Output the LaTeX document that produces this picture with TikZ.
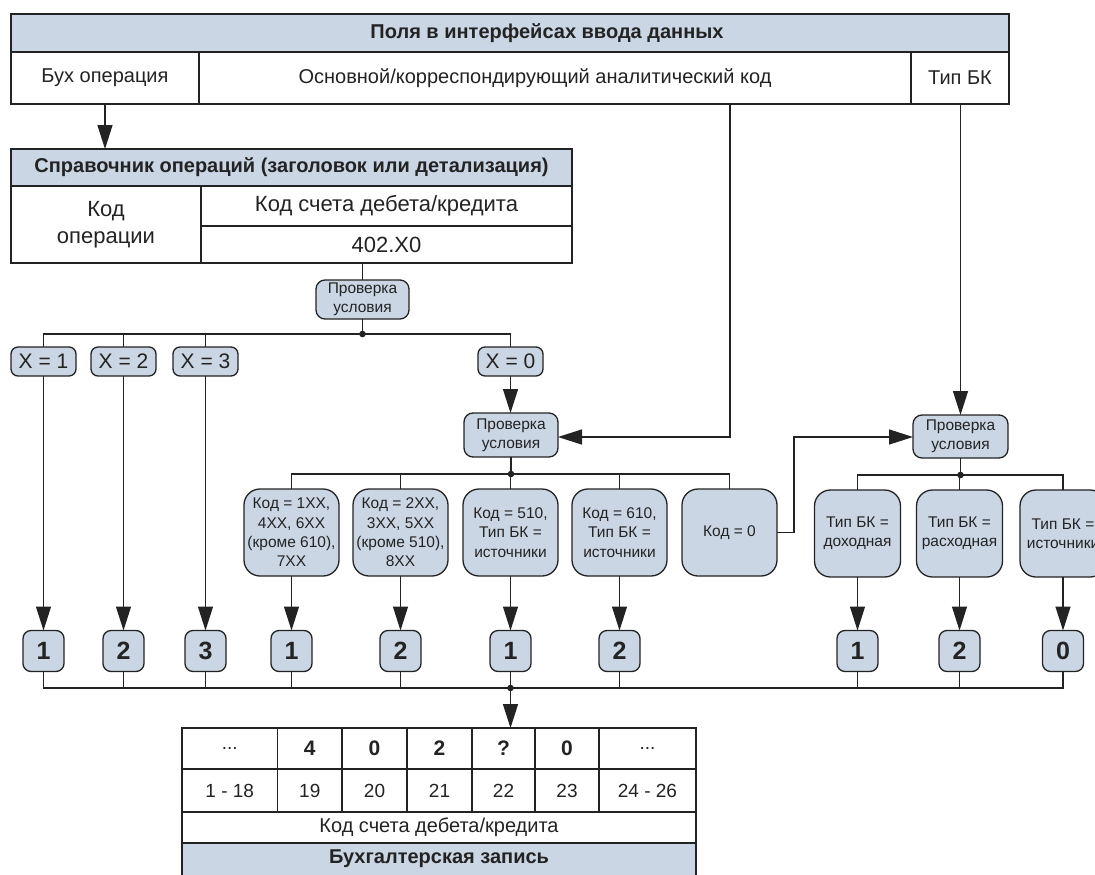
\documentclass[tikz,border=0pt]{standalone}
\usepackage{fontspec}
\setmainfont{Liberation Sans}
\usetikzlibrary{arrows.meta}
\definecolor{boxblue}{RGB}{203,214,229}
\definecolor{linec}{RGB}{35,35,35}
\definecolor{txtc}{RGB}{35,35,35}
\newcommand\myfs[2]{\fontsize{#1}{#2}\selectfont}
\begin{document}
\begin{tikzpicture}[x=1pt,y=-1pt,
  every node/.style={text=txtc},
  cell/.style={draw=linec, line width=1.4pt, inner sep=0pt, outer sep=0pt, anchor=north west, align=center, font=\myfs{20}{24}},
  hcell/.style={cell, fill=boxblue, font=\bfseries\myfs{20}{24}},
  rbox/.style={draw=linec, line width=1.3pt, fill=boxblue, inner sep=0pt, outer sep=0pt, align=center, rounded corners=#1},
  chk/.style={rbox=9pt, minimum width=94pt, minimum height=42pt, font=\myfs{15.5}{19}},
  xbox/.style={rbox=7pt, minimum width=65pt, minimum height=29pt, font=\myfs{21}{24}},
  cbox/.style={rbox=16pt, minimum width=95pt, minimum height=87pt, font=\myfs{15.5}{19.3}},
  tbox/.style={rbox=16pt, minimum width=86pt, minimum height=87pt, font=\myfs{15.5}{19.3}},
  nbox/.style={rbox=8pt, minimum width=41pt, minimum height=41pt, font=\bfseries\myfs{25}{28}},
  ln/.style={draw=linec, line width=1.3pt},
  arr/.style={ln, -{Triangle[length=24pt,width=15pt]}},
  jdot/.style={fill=linec}
]
\clip (0,0) rectangle (1095,875);
\fill[white] (0,0) rectangle (1095,875);

% ---- top table
\node[hcell, minimum width=998pt, minimum height=38pt] (hdrA) at (11,14) {};
\node[font=\bfseries\myfs{20}{24}, inner sep=0pt] (hdrAt) at (547,33) {Поля в интерфейсах ввода данных};
\node[cell, minimum width=188pt, minimum height=52pt] (buh) at (11,52) {Бух операция};
\node[cell, minimum width=712pt, minimum height=52pt] (osn) at (199,52) {\hspace*{-40pt}Основной/корреспондирующий аналитический код};
\node[cell, minimum width=98pt, minimum height=52pt] (tip) at (911,52) {Тип БК};

% ---- reference table
\node[hcell, minimum width=561pt, minimum height=37pt] (hdrB) at (11,149) {Справочник операций (заголовок или детализация)};
\node[cell, minimum width=190pt, minimum height=77pt, font=\myfs{22}{27}] (kodop) at (11,186) {Код\\операции};
\node[cell, minimum width=371pt, minimum height=40pt, font=\myfs{22}{26}] (kods) at (201,186) {Код счета дебета/кредита};
\node[cell, minimum width=371pt, minimum height=37pt, font=\myfs{22}{26}] (v402) at (201,226) {402.X0};

\draw[arr] (buh.south) -- (buh.south |- hdrB.north);

% ---- first check
\node[chk, minimum width=93pt, minimum height=39pt] (check1) at (362.5,299.5) {Проверка\\условия};
\draw[ln] (check1.north |- v402.south) -- (check1.north);
\coordinate (j1) at (362.5,334);
\node[xbox] (x1) at (43.5,361.5) {X = 1};
\node[xbox] (x2) at (123.5,361.5) {X = 2};
\node[xbox] (x3) at (205.5,361.5) {X = 3};
\node[xbox] (x0) at (510.5,361.5) {X = 0};
\draw[ln] (check1.south) -- (j1);
\draw[ln] (x1.north) -- (x1.north |- j1) -- (x0.north |- j1) -- (x0.north);
\draw[ln] (x2.north) -- (x2.north |- j1);
\draw[ln] (x3.north) -- (x3.north |- j1);
\fill[jdot] (j1) circle (3.3pt);

% ---- second check
\node[chk, minimum height=44pt] (check2) at (511,435) {Проверка\\условия};
\draw[arr] (x0.south) -- (x0.south |- check2.north);
\coordinate (k1) at (730,437);
\draw[arr] (osn.south -| k1) -- (k1) -- (check2.east |- k1);

\node[cbox] (cA) at (291.5,532.5) {Код = 1XX,\\4XX, 6XX\\(кроме 610),\\7XX};
\node[cbox] (cB) at (400.5,532.5) {Код = 2XX,\\3XX, 5XX\\(кроме 510),\\8XX};
\node[cbox] (cC) at (510.5,532.5) {Код = 510,\\Тип БК =\\источники};
\node[cbox] (cD) at (619.5,532.5) {Код = 610,\\Тип БК =\\источники};
\node[cbox] (cE) at (729.5,532.5) {Код = 0};
\coordinate (j2) at (511,474);
\draw[ln] (check2.south) -- (j2);
\draw[ln] (cA.north) -- (cA.north |- j2) -- (cE.north |- j2) -- (cE.north);
\draw[ln] (cB.north) -- (cB.north |- j2);
\draw[ln] (cC.north) -- (cC.north |- j2);
\draw[ln] (cD.north) -- (cD.north |- j2);
\fill[jdot] (j2) circle (3.3pt);

% ---- third check
\node[chk, minimum width=95pt, minimum height=43pt] (check3) at (960.5,436.5) {Проверка\\условия};
\draw[arr] (tip.south -| check3.north) -- (check3.north);
\coordinate (k2) at (794,437);
\draw[arr] (cE.east) -| (k2) -- (check3.west |- k2);
\node[tbox] (tF) at (857.5,533.5) {Тип БК =\\доходная};
\node[tbox] (tG) at (959.5,533.5) {Тип БК =\\расходная};
\node[tbox] (tH) at (1063,533.5) {Тип БК =\\источники};
\coordinate (j4) at (960.5,475);
\draw[ln] (check3.south) -- (j4);
\draw[ln] (tF.north) -- (tF.north |- j4) -- (tH.north |- j4) -- (tH.north);
\draw[ln] (tG.north) -- (tG.north |- j4);
\fill[jdot] (j4) circle (3.3pt);

% ---- result numbers
\node[nbox] (n1) at (43.5,651) {1};
\node[nbox] (n2) at (123.5,651) {2};
\node[nbox] (n3) at (205.5,651) {3};
\node[nbox] (n4) at (291.5,651) {1};
\node[nbox] (n5) at (400.5,651) {2};
\node[nbox] (n6) at (510.5,651) {1};
\node[nbox] (n7) at (619.5,651) {2};
\node[nbox] (n8) at (857.5,651) {1};
\node[nbox] (n9) at (959.5,651) {2};
\node[nbox] (n10) at (1063,651) {0};
\draw[arr] (x1.south) -- (n1.north);
\draw[arr] (x2.south) -- (n2.north);
\draw[arr] (x3.south) -- (n3.north);
\draw[arr] (cA.south) -- (n4.north);
\draw[arr] (cB.south) -- (n5.north);
\draw[arr] (cC.south) -- (n6.north);
\draw[arr] (cD.south) -- (n7.north);
\draw[arr] (tF.south) -- (n8.north);
\draw[arr] (tG.south) -- (n9.north);
\draw[arr] (tH.south) -- (n10.north);
\coordinate (j3) at (510.5,688);
\draw[ln] (n1.south) -- (n1.south |- j3) -- (n10.south |- j3) -- (n10.south);
\foreach \n in {n2,n3,n4,n5,n6,n7,n8,n9} \draw[ln] (\n.south) -- (\n.south |- j3);
\fill[jdot] (j3) circle (3.3pt);

% ---- bottom table
\node[cell, minimum width=95.5pt, minimum height=41pt, font=\myfs{19}{22}] (b1) at (182,728) {...};
\node[cell, minimum width=64.5pt, minimum height=41pt, font=\bfseries\myfs{21}{24}] (b2) at (277.5,728) {4};
\node[cell, minimum width=65pt, minimum height=41pt, font=\bfseries\myfs{21}{24}] (b3) at (342,728) {0};
\node[cell, minimum width=65pt, minimum height=41pt, font=\bfseries\myfs{21}{24}] (b4) at (407,728) {2};
\node[cell, minimum width=63pt, minimum height=41pt, font=\bfseries\myfs{21}{24}] (b5) at (472,728) {?};
\node[cell, minimum width=64pt, minimum height=41pt, font=\bfseries\myfs{21}{24}] (b6) at (535,728) {0};
\node[cell, minimum width=97pt, minimum height=41pt, font=\myfs{19}{22}] (b7) at (599,728) {...};
\node[cell, minimum width=95.5pt, minimum height=43pt, font=\myfs{19}{22}] (c1) at (182,769) {1 - 18};
\node[cell, minimum width=64.5pt, minimum height=43pt, font=\myfs{19}{22}] (c2) at (277.5,769) {19};
\node[cell, minimum width=65pt, minimum height=43pt, font=\myfs{19}{22}] (c3) at (342,769) {20};
\node[cell, minimum width=65pt, minimum height=43pt, font=\myfs{19}{22}] (c4) at (407,769) {21};
\node[cell, minimum width=63pt, minimum height=43pt, font=\myfs{19}{22}] (c5) at (472,769) {22};
\node[cell, minimum width=64pt, minimum height=43pt, font=\myfs{19}{22}] (c6) at (535,769) {23};
\node[cell, minimum width=97pt, minimum height=43pt, font=\myfs{19}{22}] (c7) at (599,769) {24 - 26};
\node[cell, minimum width=514pt, minimum height=31pt] (bkod) at (182,812) {Код счета дебета/кредита};
\node[hcell, minimum width=514pt, minimum height=50pt] (bzap) at (182,843) {};
\node[font=\bfseries\myfs{20}{24}, inner sep=0pt] (bzapt) at (439,859) {Бухгалтерская запись};
\draw[arr] (j3) -- (j3 |- b5.north);
\end{tikzpicture}
\end{document}
